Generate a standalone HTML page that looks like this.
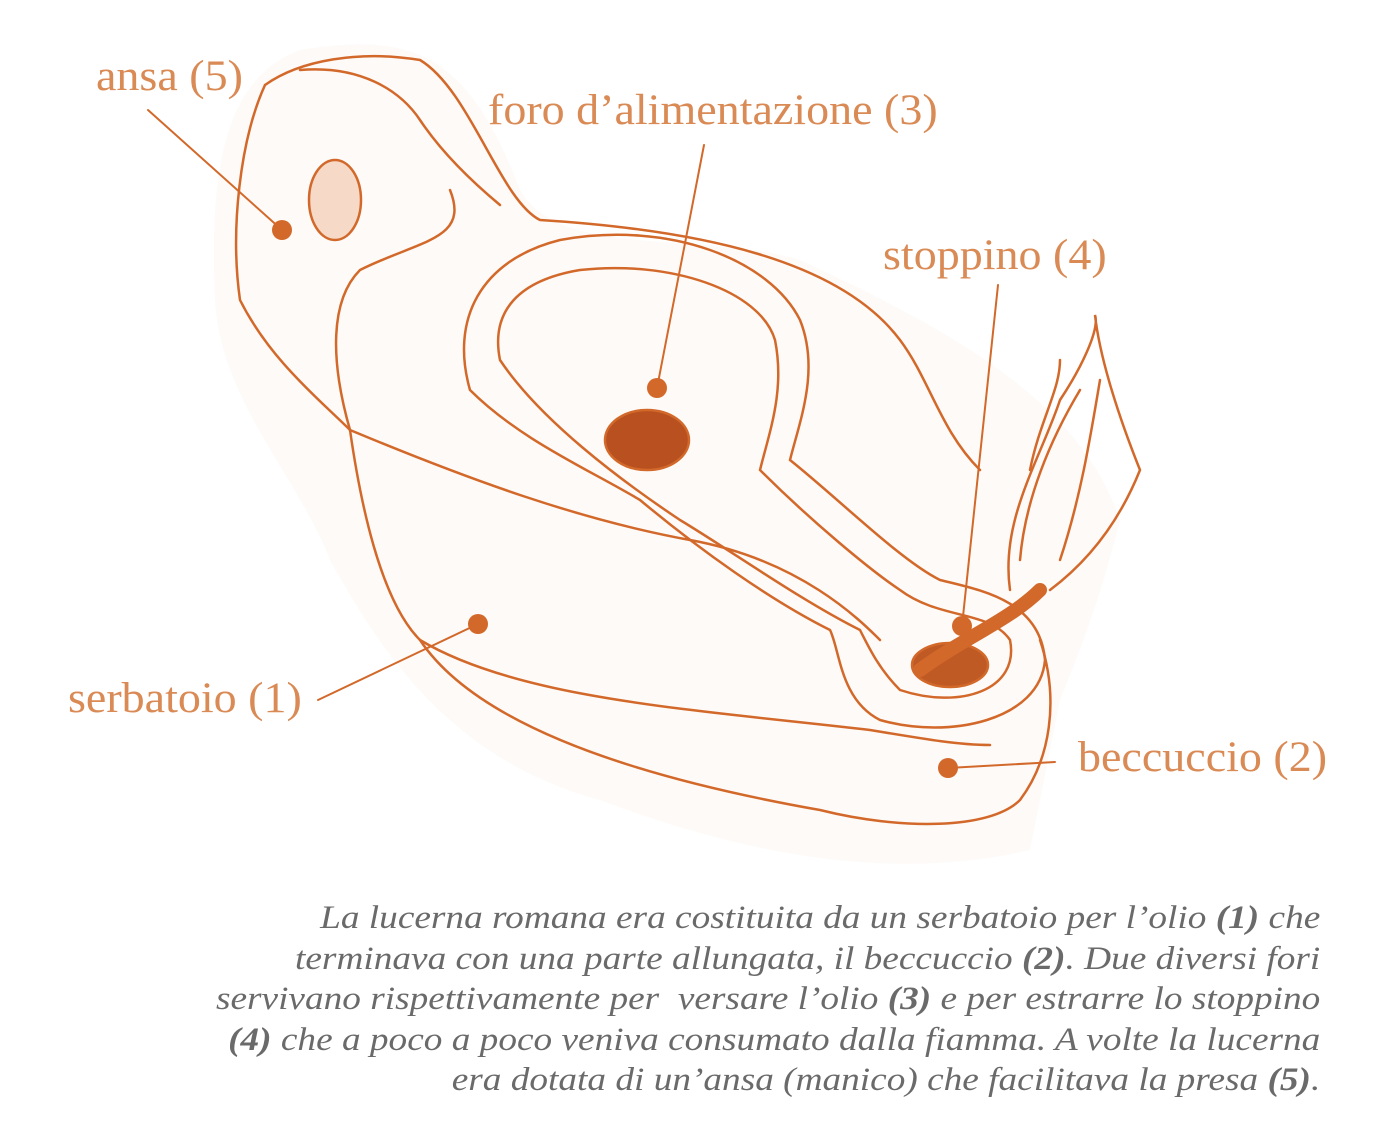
<!DOCTYPE html>
<html><head><meta charset="utf-8"><style>
body{margin:0;width:1374px;height:1128px;background:#fff;overflow:hidden;position:relative}
.l{position:absolute;font-family:"Liberation Serif",serif;color:#d98a55;font-size:43px;white-space:nowrap;transform:scaleX(1.07);transform-origin:left top}
.cap{position:absolute;right:54px;top:898px;font-family:"Liberation Serif",serif;font-style:italic;color:#6a6a6a;font-size:33px;line-height:40.5px;text-align:right;white-space:nowrap;transform:scaleX(1.13);transform-origin:right top}
.cap b{font-weight:bold}
</style></head><body>
<svg width="1374" height="1128" style="position:absolute;left:0;top:0" fill="none" stroke="#d2692a" stroke-width="2.5" stroke-linecap="round">
<path d="M300 50 C420 30 470 60 520 190 C560 260 700 230 800 260 C950 330 1080 400 1120 520 C1100 600 1080 650 1060 700 L1030 850 C900 880 760 860 600 800 C450 760 380 650 330 560 C300 480 220 400 215 300 C210 180 220 80 300 50Z" fill="#fefaf8" stroke="none"/>
<path d="M265 85 C300 60 360 50 420 60 C470 90 500 200 540 220 C700 230 840 260 900 340 C930 380 940 430 980 470"/>
<path d="M265 85 C240 140 230 230 240 300 C270 360 320 400 350 430"/>
<path d="M300 70 C360 65 400 90 420 120 C440 150 470 180 500 205"/>
<path d="M450 190 C470 240 420 240 360 270 C330 300 330 360 350 430 C360 500 380 600 420 640 C520 700 700 710 870 730 C930 740 960 745 990 745"/>
<path d="M350 430 C470 480 580 520 690 540 C800 560 860 620 880 640"/>
<path d="M1040 640 C1060 700 1050 760 1020 800 C990 830 900 830 820 810 C650 780 480 730 420 640"/>
<path d="M470 390 C450 320 480 260 560 240 C670 220 770 260 800 320 C820 370 800 420 790 460 C840 500 900 560 940 580 C980 590 1040 600 1045 660 C1040 720 950 740 880 720 C840 700 840 650 830 630 C770 600 700 550 640 500 C590 470 520 440 470 390Z"/>
<path d="M500 360 C490 310 520 280 580 270 C670 260 760 290 775 340 C785 390 770 430 760 470 C810 520 870 570 900 590 C940 620 990 610 1010 640 C1020 690 960 710 900 690 C880 670 870 650 860 630 C800 600 730 550 680 520 C620 480 540 420 500 360Z"/>
<ellipse cx="335" cy="200" rx="26" ry="40" fill="#f7d9c8"/>
<ellipse cx="647" cy="440" rx="42" ry="30" fill="#b85020"/>
<ellipse cx="950" cy="665" rx="38" ry="22" fill="#c05a25"/>
<path d="M920 670 C960 640 1010 620 1040 590" stroke-width="14"/>
<path d="M1010 590 C1000 520 1040 460 1060 400 C1080 370 1100 330 1095 315 C1100 360 1120 420 1140 470 C1120 520 1090 560 1050 590"/>
<path d="M1020 560 C1025 500 1050 440 1080 390 M1060 560 C1080 500 1090 440 1100 380 M1030 470 C1040 420 1060 390 1060 360"/>
<g stroke-width="2">
<line x1="148" y1="110" x2="282" y2="230"/>
<line x1="704" y1="145" x2="657" y2="388"/>
<line x1="998" y1="285" x2="962" y2="626"/>
<line x1="318" y1="700" x2="478" y2="624"/>
<line x1="948" y1="768" x2="1055" y2="762"/>
</g>
<g fill="#d2692a" stroke="none">
<circle cx="282" cy="230" r="10"/><circle cx="657" cy="388" r="10"/><circle cx="962" cy="626" r="10"/><circle cx="478" cy="624" r="10"/><circle cx="948" cy="768" r="10"/>
</g>
</svg>
<div class="l" style="left:96px;top:52px">ansa (5)</div>
<div class="l" style="left:488px;top:86px">foro d’alimentazione (3)</div>
<div class="l" style="left:883px;top:231px">stoppino (4)</div>
<div class="l" style="left:68px;top:674px">serbatoio (1)</div>
<div class="l" style="left:1078px;top:733px">beccuccio (2)</div>
<div class="cap">La lucerna romana era costituita da un serbatoio per l’olio <b>(1)</b> che<br>terminava con una parte allungata, il beccuccio <b>(2)</b>. Due diversi fori<br>servivano rispettivamente per &nbsp;versare l’olio <b>(3)</b> e per estrarre lo stoppino<br><b>(4)</b> che a poco a poco veniva consumato dalla fiamma. A volte la lucerna<br>era dotata di un’ansa (manico) che facilitava la presa <b>(5)</b>.</div>
</body></html>
